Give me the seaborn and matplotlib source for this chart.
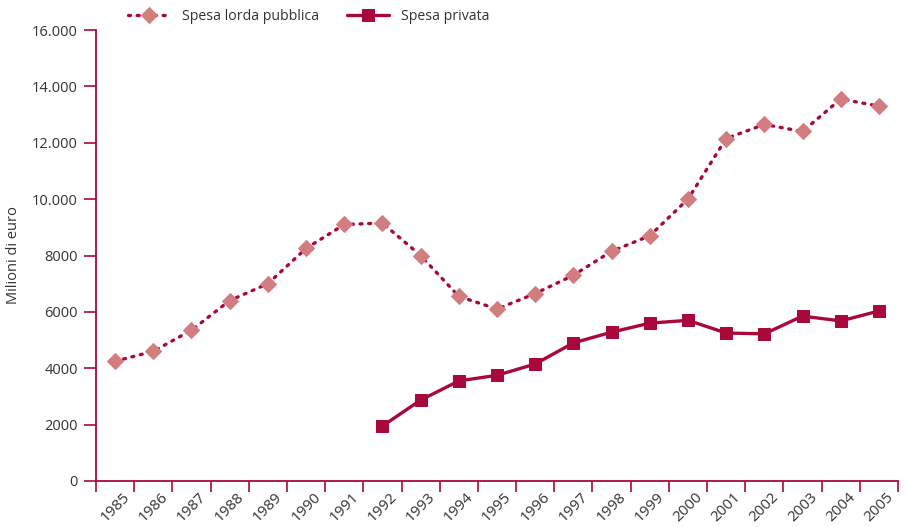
import matplotlib
matplotlib.use("Agg")
import matplotlib.pyplot as plt
import numpy as np
import pandas as pd
import seaborn as sns

years = list(range(1985, 2006))
pubblica = [4250, 4600, 5350, 6400, 7000, 8250, 9100, 9150, 8000, 6550, 6100,
            6650, 7300, 8150, 8700, 10000, 12150, 12650, 12400, 13550, 13300]
privata = [np.nan] * 7 + [1950, 2870, 3550, 3750, 4150, 4900, 5280, 5600, 5700,
                          5250, 5220, 5850, 5680, 6030]
ytick_vals = [0, 2000, 4000, 6000, 8000, 10000, 12000, 14000, 16000]
ytick_labels = ["0", "2000", "4000", "6000", "8000", "10.000", "12.000", "14.000", "16.000"]

sns.set_theme(style="white")
plt.rcParams['font.family'] = ['Open Sans', 'DejaVu Sans']

crimson = "#A8093A"
pink = "#D27E80"
textc = "#333333"

df = pd.DataFrame({"idx": np.arange(len(years)), "pubblica": pubblica, "privata": privata})

fig = plt.figure(figsize=(9.06, 5.27), dpi=100)
ax = fig.add_axes([96/906, 1-481/527, (898-96)/906, (481-30)/527])

sns.lineplot(data=df, x="idx", y="pubblica", ax=ax, color=crimson, lw=2.4,
             linestyle=(0, (0.6, 2.0)), dash_capstyle="round",
             marker="D", markersize=8.5, markerfacecolor=pink, markeredgecolor=pink,
             label="Spesa lorda pubblica")
sns.lineplot(data=df.dropna(), x="idx", y="privata", ax=ax, color=crimson, lw=2.4,
             marker="s", markersize=9, markerfacecolor=crimson, markeredgecolor=crimson,
             label="Spesa privata")

ax.set_xlim(-0.5, len(years) - 0.5)
ax.set_ylim(0, 16000)
ax.set_xticks(np.arange(-0.5, len(years), 1.0))
ax.set_xticklabels([])
ax.set_xticks(np.arange(len(years)), minor=True)
ax.set_xticklabels([str(y) for y in years], minor=True, rotation=45, ha="center",
                   fontsize=11, color=textc)
ax.tick_params(axis="x", which="major", length=8, width=1.2, color=crimson, direction="out", bottom=True)
ax.tick_params(axis="x", which="minor", length=0, pad=6)
ax.set_yticks(ytick_vals)
ax.set_yticklabels(ytick_labels, fontsize=10.5, color=textc)
ax.tick_params(axis="y", length=9, width=1.2, color=crimson, direction="out", left=True, pad=4)

for s in ["top", "right"]:
    ax.spines[s].set_visible(False)
for s in ["left", "bottom"]:
    ax.spines[s].set_color(crimson)
    ax.spines[s].set_linewidth(1.3)

ax.set_xlabel("")
ax.set_ylabel("Milioni di euro", fontsize=10.5, color=textc, labelpad=8)
ax.grid(False)

leg = ax.legend(loc="lower left", bbox_to_anchor=(122/906, 1-30/527), bbox_transform=fig.transFigure,
                ncol=2, frameon=False, fontsize=10.2, handlelength=3.0, columnspacing=2.0,
                borderaxespad=0, handletextpad=0.8)
for t in leg.get_texts():
    t.set_color(textc)

fig.savefig("out.png", dpi=100)
